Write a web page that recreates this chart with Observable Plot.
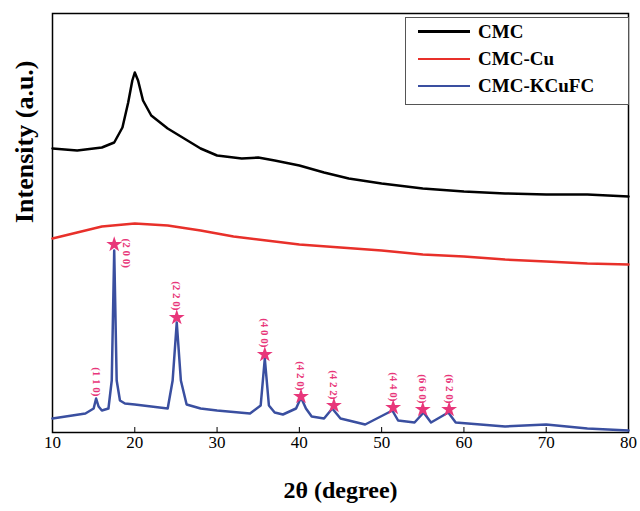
<!DOCTYPE html>
<html><head>
<script src="https://cdn.jsdelivr.net/npm/d3@7"></script>
<script src="https://cdn.jsdelivr.net/npm/@observablehq/plot@0.6"></script>
<style>
body{margin:0;background:#fff;font-family:"Liberation Serif",serif}
#wrap{position:relative;width:640px;height:511px}
#legend{position:absolute;left:405px;top:17px;width:222px;height:86px;border:1px solid #555;background:#fff;font-weight:bold;font-size:19px}
#legend div{display:flex;align-items:center;height:27px;margin-left:12px}
#legend span{display:inline-block;width:52px;height:2px;margin-right:8px}
</style>
</head><body>
<div id="wrap"><div id="chart"></div>
<div id="legend">
<div><span style="background:#000;height:3px"></span>CMC</div>
<div><span style="background:#e8302a"></span>CMC-Cu</div>
<div><span style="background:#3a4fa0"></span>CMC-KCuFC</div>
</div></div>
<script>
const cmcX = [10,13,16,17.5,18.5,19.2,19.7,20,20.4,21,22,24,26,28,30,33,35,37,40,43,46,50,55,60,65,70,75,80];
const cmcY = [284,282,285,290,305,330,352,360,352,332,317,304,294,284,277,274,275,272,267,260,254,249,244,241,239,238,238,236];
const cuX = [10,13,16,20,24,28,32,36,40,45,50,55,60,65,70,75,80];
const cuY = [194,200,206,209,207,202,196,192,188,185,182,178,176,173,171,169,168];
const kX = [10,14,15,15.3,15.6,16,16.8,17.2,17.5,17.8,18.2,18.8,20,24,24.6,25.1,25.6,26.3,28,30,34,35.3,35.8,36.3,37,38,39.6,40.2,40.8,41.5,43,44,45,48,51.3,52,54,55.1,56,58.1,59,65,70,75,80];
const kY = [14,19,24,34,26,22,24,52,182,52,32,29,28,24,52,110,52,28,24,22,19,27,74,27,20,18,24,35,24,16,14,24,14,8,22,12,10,20,10,20,10,6,8,4,2];
const starX = [17.5,25.1,35.8,40.2,44.2,51.4,55,58.2];
const starY = [188,115,78,36,27,25,23,23];
const hklX = [15.3,17.5,25.1,35.8,40.2,44.2,51.4,55,58.2];
const hklY = [36,188,122,85,42,33,31,29,29];
const hkl = ["(1 1 0)","(2 0 0)","(2 2 0)","(4 0 0)","(4 2 0)","(4 2 2)","(4 4 0)","(6 6 0)","(6 2 0)"];

const rows = (xs, ys, s) => xs.map((x, i) => ({x, y: ys[i], s}));
const lines = [...rows(cmcX, cmcY, "CMC"), ...rows(cuX, cuY, "CMC-Cu"), ...rows(kX, kY, "CMC-KCuFC")];
const stars = rows(starX, starY, "");
const labels = hkl.map((t, i) => ({t, x: hklX[i] + (i === 1 ? 1.5 : 0), y: hklY[i], a: i === 1 ? "start" : "end"}));

const p = Plot.plot({
  width: 640, height: 511,
  marginLeft: 52, marginRight: 12, marginTop: 13, marginBottom: 79,
  style: {fontFamily: "Liberation Serif, serif", fontSize: "17px", color: "#000"},
  x: {domain: [10, 80], ticks: [10,20,30,40,50,60,70,80], tickSize: -5, tickPadding: 8, label: null},
  y: {domain: [0, 419], axis: null},
  color: {domain: ["CMC","CMC-Cu","CMC-KCuFC"], range: ["#000","#e8302a","#3a4fa0"]},
  marks: [
    Plot.frame({stroke: "#000", strokeWidth: 1.5}),
    Plot.line(lines, {x: "x", y: "y", z: "s", stroke: "s", strokeWidth: 2.5}),
    Plot.dot(stars, {x: "x", y: "y", symbol: "star", fill: "#e8367a", r: 5}),
    Plot.text(labels.filter(d => d.a === "end"), {x: "x", y: "y", text: "t", rotate: 90, textAnchor: "end", fill: "#e8367a", fontSize: 11, fontWeight: "bold"}),
    Plot.text(labels.filter(d => d.a === "start"), {x: "x", y: "y", text: "t", rotate: 90, textAnchor: "start", fill: "#e8367a", fontSize: 11, fontWeight: "bold", dy: -6}),
    Plot.text(["2θ (degree)"], {frameAnchor: "bottom", dy: 65, fontSize: 24, fontWeight: "bold"}),
    Plot.text(["Intensity (a.u.)"], {frameAnchor: "left", dx: -28, rotate: -90, fontSize: 26, fontWeight: "bold"})
  ]
});
document.getElementById("chart").append(p);
</script>
</body></html>
